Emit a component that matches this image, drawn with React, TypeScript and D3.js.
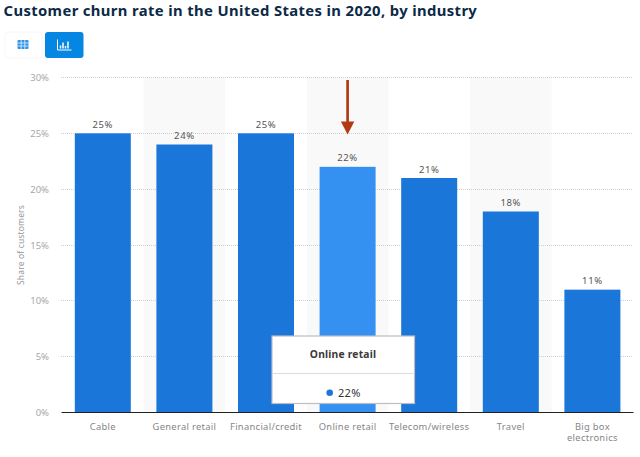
import { useEffect, useRef } from "react";
import * as d3 from "d3";

const categories = ["Cable", "General retail", "Financial/credit", "Online retail", "Telecom/wireless", "Travel", "Big box electronics"];
const churn = [25, 24, 25, 22, 21, 18, 11];
const yTicks = [0, 5, 10, 15, 20, 25, 30];
const highlighted = "Online retail";

const W = 640;
const H = 457;
const FONT = "'Noto Sans', 'Open Sans', sans-serif";

export default function App ()
{
    const svgRef = useRef<SVGSVGElement>( null );

    useEffect( () =>
    {
        if ( !svgRef.current ) return;
        const svg = d3.select( svgRef.current );
        svg.selectAll( "*" ).remove();

        const x = d3.scaleBand().domain( categories ).range( [ 62, 633.2 ] ).paddingInner( 0 );
        const y = d3.scaleLinear().domain( [ 0, 30 ] ).range( [ 412.5, 77.5 ] );
        const barW = 56;

        // Title
        svg.append( "text" ).attr( "x", 3.5 ).attr( "y", 16 )
            .attr( "fill", "#0b2a47" ).style( "font-size", "14.8px" ).style( "font-weight", "700" )
            .style( "letter-spacing", "0.38px" ).style( "font-family", FONT )
            .text( "Customer churn rate in the United States in 2020, by industry" );

        // View switch buttons
        svg.append( "rect" ).attr( "x", 5 ).attr( "y", 32 ).attr( "width", 37 ).attr( "height", 26 ).attr( "rx", 3 )
            .attr( "fill", "#fff" ).attr( "stroke", "#f6f6f6" );
        svg.append( "rect" ).attr( "x", 45 ).attr( "y", 32 ).attr( "width", 38.5 ).attr( "height", 26 ).attr( "rx", 3 )
            .attr( "fill", "#0486e2" );

        const table = svg.append( "g" ).attr( "transform", "translate(17.5,40)" );
        table.append( "rect" ).attr( "width", 11 ).attr( "height", 9 ).attr( "rx", 1 ).attr( "fill", "#2f93e6" );
        [ 3, 6 ].forEach( d => table.append( "line" ).attr( "x1", 0 ).attr( "x2", 11 ).attr( "y1", d ).attr( "y2", d ).attr( "stroke", "#fff" ).attr( "stroke-width", 0.7 ) );
        [ 3.7, 7.3 ].forEach( d => table.append( "line" ).attr( "x1", d ).attr( "x2", d ).attr( "y1", 0 ).attr( "y2", 9 ).attr( "stroke", "#fff" ).attr( "stroke-width", 0.7 ) );

        const chartIcon = svg.append( "g" ).attr( "transform", "translate(57.5,39.5)" ).attr( "stroke", "#fff" ).attr( "fill", "none" );
        chartIcon.append( "path" ).attr( "d", "M0,0V10.5H14" ).attr( "stroke-width", 1 );
        [ [ 3, 6 ], [ 5.5, 3 ], [ 8, 6.5 ], [ 10.5, 2 ] ].forEach( ( [ px, py ] ) =>
            chartIcon.append( "line" ).attr( "x1", px ).attr( "x2", px ).attr( "y1", py ).attr( "y2", 9 ).attr( "stroke-width", 1.5 ) );

        // Alternating band shading
        svg.append( "g" ).selectAll( "rect" ).data( categories.filter( ( _, i ) => i % 2 === 1 ) ).join( "rect" )
            .attr( "x", d => x( d )! ).attr( "y", y( 30 ) ).attr( "width", x.bandwidth() ).attr( "height", y( 0 ) - y( 30 ) )
            .attr( "fill", "#f9f9f9" );

        // Grid lines
        svg.append( "g" ).selectAll( "line" ).data( yTicks.filter( d => d > 0 ) ).join( "line" )
            .attr( "x1", 61 ).attr( "x2", 632 ).attr( "y1", d => Math.floor( y( d ) ) + 0.5 ).attr( "y2", d => Math.floor( y( d ) ) + 0.5 )
            .attr( "stroke", "#cfcfcf" ).attr( "stroke-dasharray", "1 1" );

        // Y axis labels
        svg.append( "g" ).selectAll( "text" ).data( yTicks ).join( "text" )
            .attr( "x", 49 ).attr( "y", d => y( d ) + 3.5 ).attr( "text-anchor", "end" )
            .attr( "fill", "#a8a8a8" ).style( "font-size", "9.5px" ).style( "font-family", FONT )
            .text( d => `${ d }%` );

        svg.append( "text" ).attr( "transform", "translate(23.5,245) rotate(-90)" ).attr( "text-anchor", "middle" )
            .attr( "fill", "#979797" ).style( "font-size", "8.5px" ).style( "letter-spacing", "0.15px" ).style( "font-family", FONT )
            .text( "Share of customers" );

        // Bars
        const cx = ( d: string ) => x( d )! + x.bandwidth() / 2;
        const rows = categories.map( ( name, i ) => ( { name, value: churn[ i ] } ) );

        svg.append( "g" ).selectAll( "rect" ).data( rows ).join( "rect" )
            .attr( "x", d => cx( d.name ) - barW / 2 ).attr( "y", d => y( d.value ) )
            .attr( "width", barW ).attr( "height", d => y( 0 ) - y( d.value ) )
            .attr( "fill", d => d.name === highlighted ? "#3491f2" : "#1a76d9" );

        // Value labels
        svg.append( "g" ).selectAll( "text" ).data( rows ).join( "text" )
            .attr( "x", d => cx( d.name ) ).attr( "y", d => y( d.value ) - 5.5 ).attr( "text-anchor", "middle" )
            .attr( "fill", "#555" ).style( "font-size", "9.5px" ).style( "letter-spacing", "0.6px" ).style( "font-family", FONT )
            .text( d => `${ d.value }%` );

        // Baseline
        svg.append( "line" ).attr( "x1", 61.5 ).attr( "x2", 633.5 ).attr( "y1", 412.5 ).attr( "y2", 412.5 )
            .attr( "stroke", "#222" ).attr( "stroke-width", 1.2 );

        // Category labels, wrapped on the space for the long last one
        const catLabels = svg.append( "g" ).selectAll( "text" ).data( categories ).join( "text" )
            .attr( "text-anchor", "middle" ).attr( "fill", "#868686" )
            .style( "font-size", "9.4px" ).style( "letter-spacing", "0.3px" ).style( "font-family", FONT );
        catLabels.each( function ( d )
        {
            const lines = d === "Big box electronics" ? [ "Big box", "electronics" ] : [ d ];
            d3.select( this ).selectAll( "tspan" ).data( lines ).join( "tspan" )
                .attr( "x", cx( d ) ).attr( "y", ( _, i ) => 430 + i * 10.5 ).text( l => l );
        } );

        // Arrow annotation
        const ax = cx( highlighted );
        svg.append( "line" ).attr( "x1", ax ).attr( "x2", ax ).attr( "y1", 80 ).attr( "y2", 123 )
            .attr( "stroke", "#b23a12" ).attr( "stroke-width", 2.7 );
        svg.append( "path" ).attr( "d", d3.line()( [ [ ax - 6.7, 121.5 ], [ ax + 6.7, 121.5 ], [ ax, 134.5 ] ] )! + "Z" )
            .attr( "fill", "#b23a12" );

        // Tooltip
        const tip = svg.append( "g" ).attr( "transform", "translate(272,336)" );
        tip.append( "rect" ).attr( "width", 142.5 ).attr( "height", 67.5 ).attr( "fill", "#fff" ).attr( "stroke", "#bdbdbd" ).attr( "stroke-width", 1.2 );
        tip.append( "line" ).attr( "x1", 1 ).attr( "x2", 141.5 ).attr( "y1", 37.5 ).attr( "y2", 37.5 ).attr( "stroke", "#dcdcdc" );
        tip.append( "text" ).attr( "x", 71 ).attr( "y", 21.7 ).attr( "text-anchor", "middle" )
            .attr( "fill", "#3a3a3a" ).style( "font-size", "10.3px" ).style( "font-weight", "700" ).style( "letter-spacing", "0.2px" ).style( "font-family", FONT )
            .text( highlighted );
        tip.append( "circle" ).attr( "cx", 57.7 ).attr( "cy", 56.7 ).attr( "r", 3.3 ).attr( "fill", "#1a76d9" );
        tip.append( "text" ).attr( "x", 66 ).attr( "y", 61 )
            .attr( "fill", "#333" ).style( "font-size", "11px" ).style( "letter-spacing", "0.3px" ).style( "font-family", FONT )
            .text( `${ churn[ categories.indexOf( highlighted ) ] }%` );
    }, [] );

    return <svg ref={ svgRef } width={ W } height={ H } style={ { position: "absolute", left: 0, top: 0, background: "#fff" } } />;
}
